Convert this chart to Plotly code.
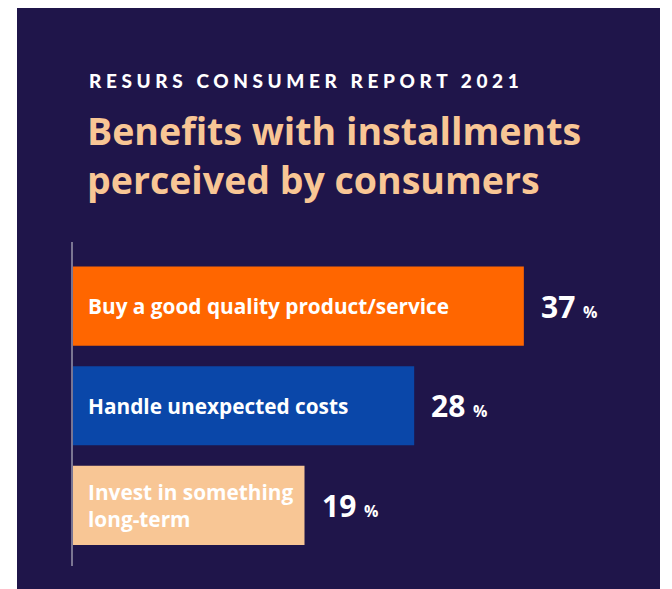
import plotly.graph_objects as go

# data
categories = ["Buy a good quality product/service", "Handle unexpected costs", "Invest in something<br>long-term"]
values = [37, 28, 19]
bar_colors = ["#ff6600", "#0a47a9", "#f8c695"]

subtitle = "RESURS CONSUMER REPORT 2021"
title = "Benefits with installments<br>perceived by consumers"

bg = "#1f154a"
peach = "#f8c695"

# page body has an 8px margin, so everything is placed 8px up/left
OFF = 8
W, H = 672, 589
L, T = 73 - OFF, 242 - OFF
pw, ph = 580, 324
R = W - L - pw
B = H - T - ph


def px_x(px):
    # reference pixel -> paper x
    return (px - OFF - L) / pw


def px_y(py):
    return (T + ph - (py - OFF)) / ph


fig = go.Figure()
fig.add_trace(go.Bar(
    x=values, y=categories, orientation="h",
    marker=dict(color=bar_colors, line=dict(width=0)),
    width=0.795, hoverinfo="skip"))

annotations = []
for c, v in zip(categories, values):
    # label inside bar
    annotations.append(dict(
        x=0, y=c, xref="x", yref="y", text=c,
        showarrow=False, xanchor="left", yanchor="middle", align="left",
        xshift=13, font=dict(family="Open Sans", size=20.8, weight=700, color="white")))
    # value label
    annotations.append(dict(
        x=v, y=c, xref="x", yref="y",
        text="%d <span style='font-size:16px'>%%</span>" % v,
        showarrow=False, xanchor="left", yanchor="middle",
        xshift=15, font=dict(family="Open Sans", size=30, weight=700, color="white")))

annotations.append(dict(
    x=px_x(87), y=px_y(67), xref="paper", yref="paper",
    text="<span style='letter-spacing:4.6px'>" + subtitle + "</span>",
    showarrow=False, xanchor="left", yanchor="top",
    font=dict(family="Lato", size=19, weight=900, color="white")))
annotations.append(dict(
    x=px_x(85), y=px_y(103), xref="paper", yref="paper",
    text=title, align="left",
    showarrow=False, xanchor="left", yanchor="top",
    font=dict(family="Open Sans", size=37.5, weight=700, color=peach)))

fig.update_layout(
    width=W, height=H,
    margin=dict(l=L, r=R, t=T, b=B),
    paper_bgcolor="white",
    plot_bgcolor="rgba(0,0,0,0)",
    showlegend=False,
    annotations=annotations,
    shapes=[dict(type="rect", xref="paper", yref="paper",
                 x0=px_x(17), x1=px_x(660), y0=px_y(600), y1=px_y(7),
                 fillcolor=bg, line=dict(width=0), layer="below")],
    xaxis=dict(range=[0, 47.6], visible=False, fixedrange=True),
    yaxis=dict(type="category", categoryorder="array", categoryarray=categories,
               range=[2.608, -0.643], showticklabels=False, showgrid=False,
               zeroline=False, showline=True, linecolor="#7a7592", linewidth=2,
               ticks="", fixedrange=True),
)

fig.write_html("out.html", config={"displayModeBar": False})
